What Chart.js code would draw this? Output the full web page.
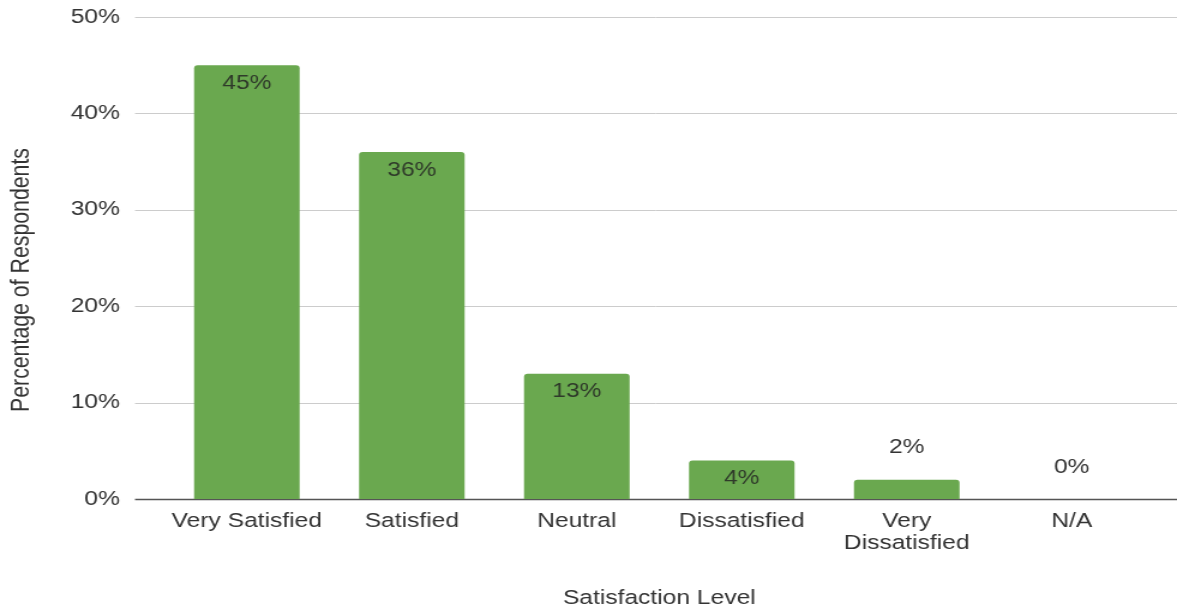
<!DOCTYPE html>
<html>
<head>
<meta charset="utf-8">
<script src="https://cdn.jsdelivr.net/npm/chart.js@4/dist/chart.umd.min.js"></script>
<style>
  html, body { margin: 0; padding: 0; background: #fff; overflow: hidden; }
  #chart { display: block; }
</style>
</head>
<body>
<canvas id="chart"></canvas>
<script>
// Data
const categories = ['Very Satisfied', 'Satisfied', 'Neutral', 'Dissatisfied', ['Very', 'Dissatisfied'], 'N/A'];
const percentages = [45, 36, 13, 4, 2, 0];
const yTicks = [0, 10, 20, 30, 40, 50];
const yTitle = 'Percentage of Respondents';

const SX = 1.2;                       // the original is stretched sideways
const W = Math.round(1177 / SX);
const FONT = '"Liberation Sans", Arial, sans-serif';
const FSIZE = 20.5;
const TEXT = '#333333';

// draw narrower, then widen with an inline css size (Chart.js keeps inline sizes)
const canvas = document.getElementById('chart');
canvas.width = W;
canvas.height = 608;
canvas.style.width = '1177px';
canvas.style.height = '608px';

// gridlines reach past the plot area, like the original
const gridPlugin = {
    id: 'wideGrid',
    beforeDatasetsDraw(chart) {
        const ctx = chart.ctx;
        const y = chart.scales.y;
        ctx.save();
        yTicks.forEach(v => {
            const py = Math.round(y.getPixelForValue(v)) + 0.5;
            ctx.strokeStyle = v === 0 ? '#555555' : '#cccccc';
            ctx.lineWidth = v === 0 ? 1.5 : 1;
            ctx.beginPath();
            ctx.moveTo(135 / SX, py);
            ctx.lineTo(W, py);
            ctx.stroke();
        });
        ctx.restore();
    }
};

// value labels: inside the bar top, or above it when the bar is short
const labelPlugin = {
    id: 'barLabels',
    afterDatasetsDraw(chart) {
        const ctx = chart.ctx;
        const meta = chart.getDatasetMeta(0);
        ctx.save();
        ctx.font = FSIZE + 'px ' + FONT;
        ctx.textAlign = 'center';
        ctx.textBaseline = 'middle';
        meta.data.forEach((bar, i) => {
            const h = bar.base - bar.y;
            if (h > 30) {
                ctx.fillStyle = '#2f3a2a';
                ctx.fillText(percentages[i] + '%', bar.x, bar.y + 18);
            } else {
                ctx.fillStyle = TEXT;
                ctx.fillText(percentages[i] + '%', bar.x, bar.y - 32);
            }
        });
        ctx.restore();
    }
};

// y title sits a little below the middle of the plot in the original
const yTitlePlugin = {
    id: 'yTitle',
    afterDraw(chart) {
        const ctx = chart.ctx;
        ctx.save();
        ctx.translate(22 / SX, 280);
        ctx.rotate(-Math.PI / 2);
        ctx.font = '21.3px ' + FONT;
        ctx.fillStyle = TEXT;
        ctx.textAlign = 'center';
        ctx.textBaseline = 'middle';
        ctx.fillText(yTitle, 0, 0);
        ctx.restore();
    }
};

new Chart(canvas, {
    type: 'bar',
    data: {
        labels: categories,
        datasets: [{
            data: percentages,
            backgroundColor: '#6aa84f',
            borderRadius: { topLeft: 3, topRight: 3 },
            borderSkipped: 'bottom',
            barPercentage: 0.64,
            categoryPercentage: 1.0
        }]
    },
    options: {
        responsive: false,
        animation: false,
        layout: { padding: { top: 17, right: Math.round(23 / SX), left: 0, bottom: 0 } },
        plugins: {
            legend: { display: false },
            tooltip: { enabled: false }
        },
        scales: {
            x: {
                grid: { display: false, drawTicks: false },
                border: { display: false },
                ticks: {
                    color: TEXT,
                    font: { family: FONT, size: FSIZE, lineHeight: 1.1 },
                    padding: 11,
                    maxRotation: 0,
                    autoSkip: false
                },
                title: {
                    display: true,
                    text: 'Satisfaction Level',
                    color: TEXT,
                    font: { family: FONT, size: FSIZE },
                    padding: { top: 0, bottom: -3 }
                },
                afterFit(scale) { scale.height = 109; }
            },
            y: {
                min: 0,
                max: 50,
                grid: { display: false, drawTicks: false },
                border: { display: false },
                afterBuildTicks(scale) { scale.ticks = yTicks.map(v => ({ value: v })); },
                ticks: {
                    color: TEXT,
                    font: { family: FONT, size: FSIZE },
                    padding: Math.round(44 / SX),
                    callback: v => v + '%'
                },
                title: { display: false },
                afterFit(scale) {
                    scale.width = Math.round(164 / SX);
                    scale.paddingTop = 0;
                    scale.paddingBottom = 0;
                }
            }
        }
    },
    plugins: [gridPlugin, labelPlugin, yTitlePlugin]
});
</script>
</body>
</html>
